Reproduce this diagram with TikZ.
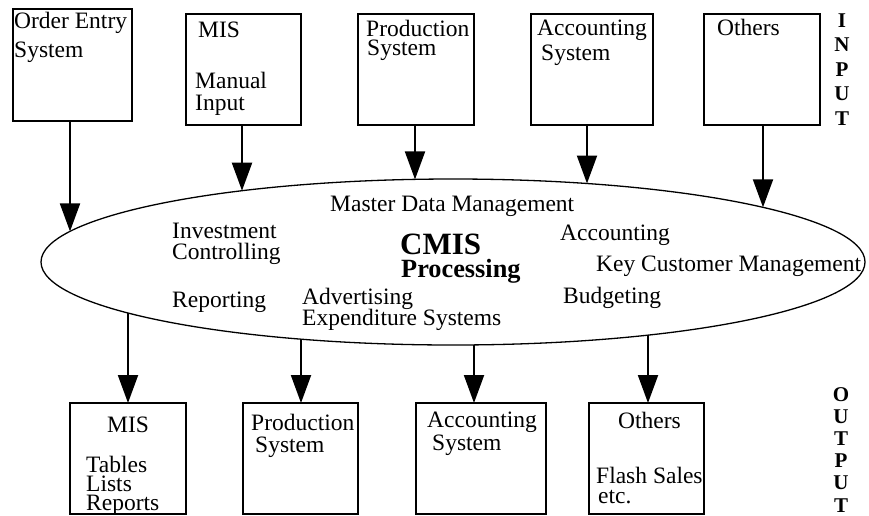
\documentclass[tikz,border=0pt]{standalone}
\usepackage{fontspec}
\setmainfont{Liberation Serif}
\usetikzlibrary{shapes.geometric,arrows.meta}

\begin{document}
\begin{tikzpicture}[x=1pt,y=-1pt,
  box/.style={draw,line width=2.4pt,inner sep=0pt,outer sep=0pt,anchor=north west},
  lbl/.style={anchor=base west,inner sep=0pt,text height=0.68em,text depth=0.08em,
              font=\fontsize{23.5}{28}\selectfont},
  flow/.style={line width=2pt,-{Triangle[length=28pt,width=20pt]}},
  side/.style={anchor=base,inner sep=0pt,text height=0.68em,text depth=0pt,
               font=\fontsize{21}{24}\selectfont\bfseries}]
\useasboundingbox (0,0) rectangle (869,515);

% central processing ellipse
\node[draw,ellipse,line width=1.3pt,inner sep=0pt,outer sep=0pt,
      minimum width=824,minimum height=166] (proc) at (453,262) {};

% input systems
\node[box,minimum width=119,minimum height=112] (oe) at (13,9) {};
\node[box,minimum width=115,minimum height=111] (mi) at (186,14) {};
\node[box,minimum width=116,minimum height=111] (pi) at (358,14) {};
\node[box,minimum width=122,minimum height=111] (ai) at (531,14) {};
\node[box,minimum width=116,minimum height=111] (xi) at (704,14) {};

\node[lbl] (oe1) at (14,28) {Order Entry};
\node[lbl] (oe2) at (14,57) {System};
\node[lbl] (mi1) at (198,37) {MIS};
\node[lbl] (mi2) at (195,88) {Manual};
\node[lbl] (mi3) at (195,110) {Input};
\node[lbl] (pi1) at (366,36) {Production};
\node[lbl] (pi2) at (367,55) {System};
\node[lbl] (ai1) at (537,35) {Accounting};
\node[lbl] (ai2) at (541,60) {System};
\node[lbl] (xi1) at (717,35) {Others};

% output systems
\node[box,minimum width=116,minimum height=111] (mo) at (70,403) {};
\node[box,minimum width=115,minimum height=111] (po) at (243,403) {};
\node[box,minimum width=130,minimum height=111] (ao) at (416,403) {};
\node[box,minimum width=115,minimum height=111] (xo) at (589,403) {};

\node[lbl] (mo1) at (107,432) {MIS};
\node[lbl] (mo2) at (86,472) {Tables};
\node[lbl] (mo3) at (86,491) {Lists};
\node[lbl] (mo4) at (86,510) {Reports};
\node[lbl] (po1) at (251,430) {Production};
\node[lbl] (po2) at (255,452) {System};
\node[lbl] (ao1) at (427,427) {Accounting};
\node[lbl] (ao2) at (432,450) {System};
\node[lbl] (xo1) at (618,428) {Others};
\node[lbl] (xo2) at (596,483) {Flash Sales};
\node[lbl] (xo3) at (598,503) {etc.};

% functions inside the ellipse
\node[lbl] (mdm) at (330,211) {Master Data Management};
\node[lbl] (inv1) at (172,238) {Investment};
\node[lbl] (inv2) at (172,259) {Controlling};
\node[lbl,font=\fontsize{31}{34}\selectfont\bfseries] (cmis) at (400,254) {CMIS};
\node[lbl,font=\fontsize{26.3}{30}\selectfont\bfseries] (cproc) at (401,277) {Processing};
\node[lbl] (acc) at (560,240) {Accounting};
\node[lbl] (kcm) at (596,271) {Key Customer Management};
\node[lbl] (bud) at (563,303) {Budgeting};
\node[lbl] (rep) at (172,307) {Reporting};
\node[lbl] (adv1) at (302,304) {Advertising};
\node[lbl] (adv2) at (302,325) {Expenditure Systems};

% side captions
\foreach \l [count=\i] in {I,N,P,U,T}
  \node[side] (in\i) at (842,{27+24.5*(\i-1)}) {\l};
\foreach \l [count=\i] in {O,U,T,P,U,T}
  \node[side] (out\i) at (841,{401+22.2*(\i-1)}) {\l};

% points where the flows meet the ellipse
\coordinate (i1) at (70,231.4);
\coordinate (i2) at (242,190.7);
\coordinate (i3) at (415,179.4);
\coordinate (i4) at (587,183.5);
\coordinate (i5) at (763,207.3);
\coordinate (o1) at (128,313);
\coordinate (o2) at (301,339.1);
\coordinate (o3) at (474,344.9);
\coordinate (o4) at (648,335.1);

\draw[flow] (oe.south -| i1) -- (i1);
\draw[flow] (mi.south -| i2) -- (i2);
\draw[flow] (pi.south -| i3) -- (i3);
\draw[flow] (ai.south -| i4) -- (i4);
\draw[flow] (xi.south -| i5) -- (i5);

\draw[flow] (o1) -- (o1 |- mo.north);
\draw[flow] (o2) -- (o2 |- po.north);
\draw[flow] (o3) -- (o3 |- ao.north);
\draw[flow] (o4) -- (o4 |- xo.north);
\end{tikzpicture}
\end{document}
